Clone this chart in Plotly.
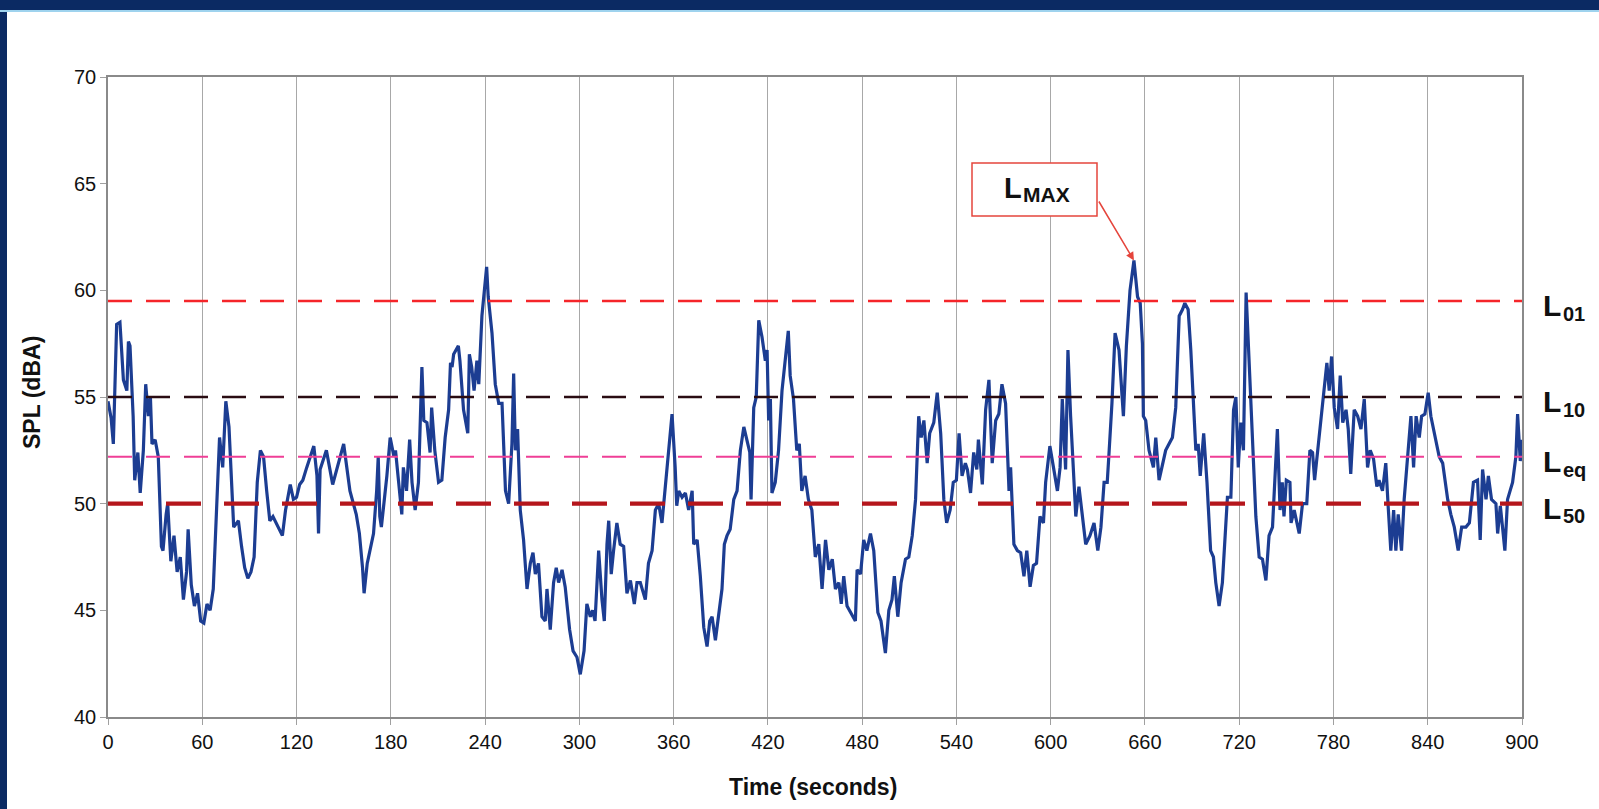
import plotly.graph_objects as go
import numpy as np

# ---------------- data ----------------
time_s = [0, 2, 3.4, 5.5, 7.6, 9.8, 12, 13, 14, 16, 17, 19, 20.5, 22.5, 24, 25.7, 27, 28, 30, 32,
          34, 35, 37, 38, 40, 42, 44, 46, 48, 50, 51, 53, 55, 57, 59, 61, 63, 65, 67, 69,
          71, 73, 75, 77, 79, 80, 82, 83, 85, 87, 89, 91, 93, 95, 97, 99, 101, 103, 105, 107,
          111, 113, 116, 118, 120, 122, 124, 126.5, 131, 133, 134, 135, 139, 141, 143, 150, 154, 158, 160, 162,
          163, 165, 167, 169, 171, 172, 173, 174, 177.5, 179.6, 182, 183, 185, 187, 188, 190, 192, 193.5, 195.5, 197.6,
          199.8, 201, 203, 205, 206, 208, 210.4, 212.5, 214.6, 216.8, 218, 219, 220, 223, 224, 226.3, 229, 230, 231.5, 233,
          234.8, 236, 238, 239.5, 241, 242, 244.4, 246.5, 248.7, 250.8, 253, 255, 257.1, 258.2, 259.3, 260.7, 262.4, 264.5, 266.7, 268.8,
          270.5, 272, 274, 276.2, 278.3, 279.4, 281.5, 283.6, 285.3, 286.8, 289, 291, 293.8, 296, 298.5, 300.6, 303, 304.8, 307, 308.5,
          310, 312.3, 314.4, 315.9, 317.6, 318.7, 320.3, 321.8, 323.9, 326, 328.2, 330.3, 332.5, 335, 336.7, 338.8, 342, 344, 346.3, 348.4,
          350.5, 352.6, 354.8, 357, 359, 361, 362, 363.3, 365.4, 367.5, 369.6, 371.8, 372.8, 375, 377, 379.2, 381.3, 383, 384.5, 386.6,
          388.7, 390.8, 392.3, 394, 396, 398.3, 400.4, 402.5, 404.7, 406.8, 408.5, 409.3, 411, 412.6, 414.2, 416.3, 418.4, 419.5, 420.5, 421.6,
          422.6, 424.7, 426.8, 429, 431, 433, 434.2, 436.3, 438.4, 440, 441.6, 443.7, 445.8, 448, 450.2, 452.4, 454.5, 456.7, 458.8, 461,
          463, 465.2, 466.7, 468.3, 470.4, 472.5, 475.7, 476.8, 479, 481, 483, 485.3, 487.4, 490, 492, 494.8, 497, 499, 500.5, 502.7,
          504.8, 507.6, 509.7, 511.9, 514, 516, 517.6, 519.3, 521.4, 523, 525.6, 527.8, 530, 532, 533.8, 536, 538, 540, 541.7, 543.6,
          545.7, 547, 549, 551, 553, 554, 556.5, 558.6, 560.7, 562.8, 565, 567, 569, 571.3, 573.5, 574.5, 576.6, 578.8, 580.9, 583,
          584.8, 586.9, 589, 591, 593.2, 595.4, 596.8, 599.5, 602, 604.3, 606, 607.4, 609.5, 611, 612.7, 614.9, 616, 618, 620.2, 622.3,
          625, 627.6, 630, 632, 634, 636, 637, 639, 641, 643.5, 646.3, 648.2, 650.5, 653, 655.3, 657, 658.4, 659, 660.5, 662.6,
          665.4, 666.9, 669, 671, 673.2, 675.3, 677.5, 679.6, 681.8, 683.9, 685.4, 687.5, 689.2, 691.3, 692.4, 693.9, 695.2, 697.4, 699.5, 701.8,
          703.6, 705.1, 707.2, 709.3, 711.5, 712.5, 714.7, 716.4, 717.9, 719.4, 721, 722.7, 724.4, 726, 727.4, 729, 730.6, 732.7, 734.8, 737,
          739, 741.2, 742.7, 744.3, 746, 747.4, 748.5, 750, 752.3, 753, 755, 756.6, 758.2, 760.3, 763, 765, 766.7, 768, 770, 772,
          774, 775.8, 777.3, 778.8, 780.5, 782.6, 784.3, 785.9, 788, 789.4, 791, 793.2, 795.4, 797.5, 799.6, 801.7, 803.4, 805.5, 807.6, 809,
          811.2, 813.3, 814.8, 816.5, 818.3, 819.7, 821.2, 823.3, 825, 827.2, 829.3, 831, 832.6, 834.6, 836.1, 838.2, 840.3, 842, 845.2, 847.3,
          849.5, 852.7, 854.7, 856.9, 859.4, 861.6, 864.3, 866.5, 869.1, 871.7, 873.4, 874.9, 877.1, 878.6, 880.6, 883.4, 884.5, 886.2, 887.6, 889.1,
          890.8, 894, 896.1, 897.2, 898.9, 900]

spl_dba = [54.8, 54.0, 52.8, 58.4, 58.5, 55.8, 55.3, 57.6, 57.4, 54.1, 51.1, 52.4, 50.5, 52.5, 55.6, 54.1, 55.0, 52.8, 53.0, 52.2,
           48.0, 47.8, 49.5, 50.0, 47.3, 48.5, 46.8, 47.5, 45.5, 46.8, 48.8, 46.2, 45.2, 45.8, 44.5, 44.4, 45.3, 45.0, 46.0, 49.5,
           53.1, 51.7, 54.8, 53.6, 50.9, 48.9, 49.1, 49.2, 48.0, 47.0, 46.5, 46.8, 47.5, 51.0, 52.5, 52.2, 50.6, 49.2, 49.4, 49.1,
           48.5, 49.7, 50.9, 50.2, 50.3, 50.9, 51.1, 51.7, 52.7, 51.3, 48.6, 51.6, 52.5, 51.7, 50.9, 52.8, 50.6, 49.5, 48.6, 47.0,
           45.8, 47.2, 48.0, 48.6, 50.6, 52.2, 49.4, 48.9, 51.3, 53.1, 52.2, 52.5, 51.0, 49.5, 51.7, 50.6, 53.0, 51.0, 49.7, 51.0,
           56.4, 53.9, 53.8, 52.4, 54.5, 52.5, 51.0, 51.1, 53.1, 54.4, 56.6, 56.4, 57.0, 57.4, 56.7, 54.4, 53.3, 57.0, 56.4, 55.3,
           56.7, 55.6, 58.8, 60.0, 61.1, 59.7, 58.0, 55.6, 54.7, 54.7, 50.6, 50.0, 52.8, 56.1, 52.5, 53.5, 49.7, 48.3, 46.0, 47.2,
           47.7, 46.7, 47.2, 44.7, 44.5, 46.0, 44.1, 46.3, 47.0, 46.3, 46.9, 46.1, 44.1, 43.1, 42.8, 42.0, 43.1, 45.3, 44.7, 45.0,
           44.5, 47.8, 45.5, 44.5, 48.1, 49.2, 46.7, 47.8, 49.1, 48.1, 48.0, 45.8, 46.4, 45.3, 46.3, 46.3, 45.5, 47.2, 47.8, 49.7,
           50.0, 49.1, 51.0, 52.5, 54.2, 51.7, 49.9, 50.6, 50.3, 50.5, 49.7, 50.6, 48.1, 48.3, 46.6, 44.2, 43.3, 44.5, 44.7, 43.6,
           44.7, 46.0, 48.1, 48.5, 48.8, 50.2, 50.6, 52.5, 53.6, 53.0, 52.4, 50.2, 54.5, 55.0, 58.6, 57.8, 56.7, 57.2, 53.9, 54.9,
           50.5, 51.0, 52.5, 55.3, 56.9, 58.1, 56.0, 54.9, 52.5, 52.8, 50.6, 51.3, 50.2, 49.7, 47.5, 48.1, 46.0, 48.3, 46.9, 47.4,
           46.0, 46.3, 45.3, 46.6, 45.2, 44.9, 44.5, 46.9, 46.7, 48.3, 47.8, 48.6, 47.8, 44.9, 44.5, 43.0, 45.0, 45.5, 46.6, 44.7,
           46.3, 47.4, 47.5, 48.5, 50.2, 54.1, 53.1, 53.9, 51.9, 53.3, 53.8, 55.2, 53.3, 50.2, 49.1, 49.7, 51.0, 51.1, 53.3, 51.3,
           51.9, 51.6, 50.5, 52.4, 51.6, 53.0, 50.9, 54.4, 55.8, 51.9, 53.9, 54.2, 55.6, 54.7, 50.6, 51.7, 48.1, 47.8, 47.7, 46.6,
           47.8, 46.1, 47.1, 47.2, 49.4, 49.1, 51.0, 52.7, 51.7, 50.6, 51.7, 54.9, 51.6, 57.2, 54.1, 51.1, 49.4, 50.8, 49.4, 48.1,
           48.5, 49.1, 47.8, 48.9, 51.0, 51.0, 52.2, 54.7, 58.0, 57.2, 54.1, 57.4, 60.0, 61.4, 59.7, 59.4, 57.5, 54.1, 53.9, 52.5,
           51.7, 53.1, 51.1, 51.7, 52.5, 52.8, 53.1, 54.5, 58.8, 59.1, 59.4, 59.1, 57.2, 54.1, 52.5, 52.8, 51.3, 53.3, 51.0, 47.8,
           47.5, 46.3, 45.2, 46.3, 48.9, 50.3, 50.3, 54.4, 55.0, 51.7, 53.8, 52.5, 59.9, 57.2, 55.6, 52.5, 49.4, 47.5, 47.4, 46.4,
           48.5, 48.9, 51.0, 53.5, 49.7, 51.0, 49.4, 51.1, 51.0, 49.1, 49.7, 49.2, 48.6, 50.0, 50.0, 52.5, 52.4, 51.1, 52.5, 54.2,
           55.6, 56.6, 55.3, 56.9, 54.5, 53.5, 56.0, 53.8, 54.4, 53.5, 51.4, 54.4, 54.1, 53.5, 54.9, 51.7, 52.5, 52.1, 50.8, 51.1,
           50.6, 51.9, 49.9, 47.8, 49.7, 47.8, 49.5, 47.8, 50.2, 52.2, 54.1, 51.7, 54.1, 53.1, 54.1, 54.2, 55.2, 54.1, 53.0, 52.2,
           51.9, 50.2, 49.5, 48.9, 47.8, 48.9, 48.9, 49.1, 51.0, 51.1, 48.3, 51.6, 50.2, 51.3, 50.2, 50.0, 48.6, 49.9, 48.9, 47.8,
           50.2, 51.0, 52.2, 54.2, 52.0, 53.0]

level_names = ["L01", "L10", "Leq", "L50"]
level_subs = ["01", "10", "eq", "50"]
level_values = [59.5, 55.0, 52.2, 50.0]

x_ticks = [0, 60, 120, 180, 240, 300, 360, 420, 480, 540, 600, 660, 720, 780, 840, 900]
y_ticks = [40, 45, 50, 55, 60, 65, 70]

# ---------------- style ----------------
W, H = 1599, 809
ML, MR, MT, MB = 108, 77, 77, 92
PW, PH = W - ML - MR, H - MT - MB
FONT = "Liberation Sans, Arial, sans-serif"

def px_x(px):
    return (px - ML) / PW

def px_y(py):
    return (H - MB - py) / PH

level_styles = [
    dict(color="#f5252a", width=2.6, dash="24px,14px"),
    dict(color="#2a0c12", width=2.6, dash="24px,14px"),
    dict(color="#ef3f96", width=2.0, dash="24px,14px"),
    dict(color="#b5161c", width=4.2, dash="35px,23px"),
]

fig = go.Figure()
fig.add_trace(go.Scatter(x=time_s, y=spl_dba, mode="lines",
                         line=dict(color="#1c3d92", width=3.2), hoverinfo="skip",
                         showlegend=False))
for name, val, st in zip(level_names, level_values, level_styles):
    fig.add_trace(go.Scatter(x=[x_ticks[0], x_ticks[-1]], y=[val, val], mode="lines",
                             line=st, name=name, showlegend=False, hoverinfo="skip"))

annotations = []
# level labels at the right (L + subscript)
for sub, val in zip(level_subs, level_values):
    annotations.append(dict(xref="paper", yref="y", x=px_x(1541), y=val - 0.22,
                            text="<b>L</b>", showarrow=False, xanchor="left", yanchor="middle",
                            font=dict(family=FONT, size=30, color="#111")))
    annotations.append(dict(xref="paper", yref="y", x=px_x(1561), y=val - 0.6,
                            text="<b>%s</b>" % sub, showarrow=False, xanchor="left", yanchor="middle",
                            font=dict(family=FONT, size=20, color="#111")))

# LMAX callout
imax = int(np.argmax(spl_dba))
annotations.append(dict(xref="x", yref="y", x=time_s[imax], y=spl_dba[imax],
                        ax=1098 - (ML + time_s[imax] / 900 * PW),
                        ay=200 - (MT + (70 - spl_dba[imax]) / 30 * PH),
                        text="", showarrow=True, arrowhead=2, arrowsize=1.1,
                        arrowwidth=1.5, arrowcolor="#e5453c", standoff=0, startstandoff=0))
annotations.append(dict(xref="paper", yref="paper", x=px_x(1002), y=px_y(188),
                        text="<b>L</b>", showarrow=False, xanchor="left", yanchor="middle",
                        font=dict(family=FONT, size=29, color="#111")))
annotations.append(dict(xref="paper", yref="paper", x=px_x(1021), y=px_y(194),
                        text="<b>MAX</b>", showarrow=False, xanchor="left", yanchor="middle",
                        font=dict(family=FONT, size=21, color="#111")))

# axis titles
annotations.append(dict(xref="paper", yref="paper", x=px_x(32), y=px_y(393),
                        text="<b>SPL (dBA)</b>", textangle=-90, showarrow=False,
                        xanchor="center", yanchor="middle",
                        font=dict(family=FONT, size=23, color="#111")))
annotations.append(dict(xref="paper", yref="paper", x=px_x(813), y=px_y(787),
                        text="<b>Time (seconds)</b>", showarrow=False,
                        xanchor="center", yanchor="middle",
                        font=dict(family=FONT, size=23, color="#111")))

shapes = [
    # LMAX box
    dict(type="rect", xref="paper", yref="paper", x0=px_x(972), x1=px_x(1097),
         y0=px_y(216), y1=px_y(163), line=dict(color="#e5453c", width=1.5),
         fillcolor="white", layer="above"),
    # dark blue frame (left and top)
    dict(type="rect", xref="paper", yref="paper", x0=px_x(0), x1=px_x(7),
         y0=px_y(H), y1=px_y(0), line=dict(width=0), fillcolor="#0b2a63", layer="above"),
    dict(type="rect", xref="paper", yref="paper", x0=px_x(0), x1=px_x(W),
         y0=px_y(10), y1=px_y(0), line=dict(width=0), fillcolor="#0b2a63", layer="above"),
    dict(type="rect", xref="paper", yref="paper", x0=px_x(0), x1=px_x(W),
         y0=px_y(12), y1=px_y(10), line=dict(width=0), fillcolor="#9fd3ee", layer="above"),
]

fig.update_layout(
    width=W, height=H,
    margin=dict(l=ML, r=MR, t=MT, b=MB, pad=0),
    paper_bgcolor="white", plot_bgcolor="white",
    font=dict(family=FONT, size=20, color="#111"),
    annotations=annotations, shapes=shapes,
    showlegend=False,
)
fig.update_xaxes(range=[0, 900], tickvals=x_ticks, ticktext=[str(v) for v in x_ticks],
                 showgrid=True, gridcolor="#a8a8a8", gridwidth=1,
                 showline=True, linecolor="#8a8a8a", linewidth=1.5, mirror=True,
                 ticks="outside", ticklen=6, tickcolor="#a0a0a0",
                 tickfont=dict(family=FONT, size=20, color="#111"), zeroline=False)
fig.update_yaxes(range=[40, 70], tickvals=y_ticks, ticktext=[str(v) for v in y_ticks],
                 showgrid=False,
                 showline=True, linecolor="#8a8a8a", linewidth=1.5, mirror=True,
                 ticks="outside", ticklen=6, tickcolor="#a0a0a0",
                 tickfont=dict(family=FONT, size=20, color="#111"), zeroline=False)

fig.write_html("out.html", config={"displayModeBar": False},
               post_script="document.body.style.margin='0';document.body.style.overflow='hidden';")
